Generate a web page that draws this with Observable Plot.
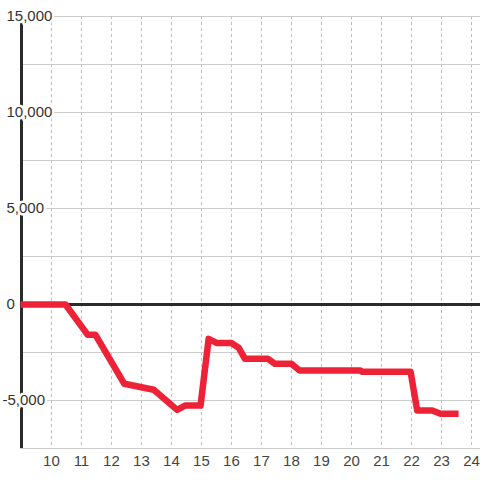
<!DOCTYPE html>
<html>
<head>
<meta charset="utf-8">
<script src="https://cdn.jsdelivr.net/npm/d3@7"></script>
<script src="https://cdn.jsdelivr.net/npm/@observablehq/plot@0.6"></script>
<style>
  html, body { margin: 0; padding: 0; background: #fff; }
  #chart { width: 480px; height: 480px; }
</style>
</head>
<body>
<div id="chart"></div>
<script>
const hours  = [8.97, 10.47, 11.21, 11.47, 12.43, 13.41, 14.19, 14.47, 14.97, 15.24, 15.52, 16.0, 16.24, 16.45, 17.22, 17.45, 18.0, 18.27, 20.3, 20.35, 21.97, 22.19, 22.69, 22.97, 23.57];
const values = [0, 0, -1580, -1580, -4130, -4440, -5490, -5260, -5260, -1790, -2010, -2010, -2250, -2830, -2830, -3090, -3090, -3440, -3440, -3500, -3500, -5520, -5520, -5690, -5690];
const xTicks = [10, 11, 12, 13, 14, 15, 16, 17, 18, 19, 20, 21, 22, 23, 24];
const yGrid = [-7500, -5000, -2500, 0, 2500, 5000, 7500, 10000, 12500, 15000];
const yLabels = [-5000, 0, 5000, 10000, 15000];
const xDomain = [8.97, 24.3];
const yDomain = [-7500, 15000];

const data = hours.map((h, i) => ({h, v: values[i]}));
const fmt = d => d.toLocaleString("en-US");

const chart = Plot.plot({
  width: 480,
  height: 480,
  marginTop: 16,
  marginBottom: 32,
  marginLeft: 20,
  marginRight: 0,
  style: {fontFamily: "'Liberation Sans', Arial, sans-serif", fontSize: "15px", background: "#fff"},
  x: {domain: xDomain, label: null},
  y: {domain: yDomain, axis: null},
  marks: [
    Plot.ruleX(xTicks, {stroke: "#bbb", strokeWidth: 1, strokeDasharray: "3,3"}),
    Plot.ruleY(yGrid, {stroke: "#ccc", strokeWidth: 1}),
    Plot.ruleY([0], {stroke: "#2b2b2b", strokeWidth: 3}),
    Plot.ruleX([xDomain[0]], {stroke: "#2b2b2b", strokeWidth: 3, dx: 1}),
    Plot.line(data, {x: "h", y: "v", stroke: "#ed2236", strokeWidth: 6.5, strokeLinecap: "butt", strokeLinejoin: "round"}),
    Plot.text(yLabels.filter(d => d >= 0), {x: () => xDomain[0], y: d => d, text: fmt, textAnchor: "start", dx: -14, fill: "#333", stroke: "white", strokeWidth: 5, fontSize: 15}),
    Plot.text(yLabels.filter(d => d < 0), {x: () => xDomain[0], y: d => d, text: fmt, textAnchor: "start", dx: -18, fill: "#333", stroke: "white", strokeWidth: 5, fontSize: 15}),
    Plot.axisX(xTicks, {tickSize: 0, tickPadding: 7, fontSize: 15, fill: "#444", tickFormat: d => String(d), label: null})
  ]
});
document.getElementById("chart").append(chart);
</script>
</body>
</html>
